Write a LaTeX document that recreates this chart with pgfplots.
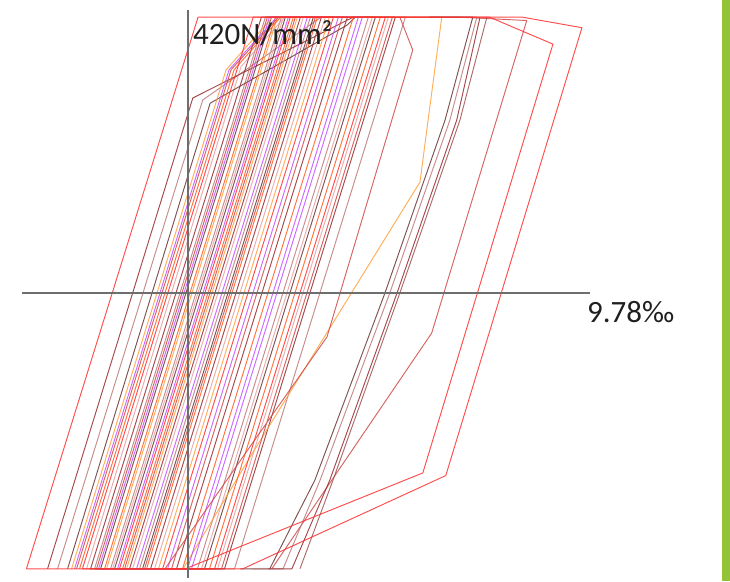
\documentclass[border=0pt]{standalone}
\usepackage{pgfplots}
\pgfplotsset{compat=1.18}
\usepackage{fontspec}
\setmainfont{Carlito}
\definecolor{cRed}{RGB}{255,45,45}
\definecolor{cMaroon}{RGB}{150,40,45}
\definecolor{cRosy}{RGB}{190,120,120}
\definecolor{cDkBrown}{RGB}{105,50,50}
\definecolor{cOrange}{RGB}{255,160,60}
\definecolor{cOrRed}{RGB}{255,90,30}
\definecolor{cPurple}{RGB}{195,80,255}
\definecolor{cPink}{RGB}{232,160,160}
\definecolor{cIndian}{RGB}{208,72,72}
\definecolor{cBrownD}{RGB}{160,80,80}
\definecolor{cGreen}{RGB}{146,195,56}
\definecolor{cAxis}{RGB}{110,110,110}
\begin{document}
\begin{tikzpicture}
\begin{axis}[at={(0pt,0pt)}, anchor=south west, scale only axis,
  width=568pt, height=568pt,
  xmin=-4.12, xmax=9.98, ymin=-434, ymax=431,
  hide axis, clip=false,
  every axis plot/.append style={line width=0.95pt, line join=round, mark=none, opacity=0.85}]
% rosy brown
\addplot[cRosy] coordinates {(-3.237,-420) (0.367,294) (3.3,420) (5.395,420) (1.155,-420) (-2.319,-420) (1.921,420) (4.477,420) (0.237,-420) (-1.921,-420) (2.319,420) (3.038,420) (-1.202,-420)};
% pink
\addplot[cPink] coordinates {(-2.517,-420) (1.319,345) (2.4,420) (4.974,420) (0.734,-420) (-1.872,-420) (2.368,420) (4.577,420) (0.337,-420) (-1.376,-420) (2.864,420) (3.41,420) (-0.83,-420)};
% dark brown
\addplot[cDkBrown] coordinates {(-2.988,-420) (0.55,289) (3.95,408) (4.15,420) (4.651,420) (0.411,-420) (-2.17,-420) (2.07,420) (3.113,420) (-1.127,-420) (-1.822,-420) (2.418,420)};
% maroon
\addplot[cMaroon] coordinates {(-3.485,-420) (0.12,297) (4.1,420) (5.147,420) (0.907,-420) (-2.418,-420) (1.822,420) (3.956,420) (-0.284,-420) (-1.45,-420) (2.79,420) (3.311,420) (-0.929,-420)};
% orange
\addplot[cOrange] coordinates {(-2.889,-420) (0.947,340) (2.1,420) (2.716,420) (-1.524,-420) (-2.021,-420) (2.219,420) (6.30,420) (5.96,263) (5.76,169) (1.54,-250) (-0.12,-420) (-0.73,-420) (3.51,420)};
% orange red
\addplot[cOrRed] coordinates {(-2.691,-420) (1.145,340) (2.3,420) (4.775,420) (0.535,-420) (-2.07,-420) (2.17,420) (4.105,420) (-0.135,-420) (-1.624,-420) (2.616,420) (3.212,420) (-1.028,-420)};
% purple
\addplot[cPurple] coordinates {(-2.815,-420) (1.021,340) (2.2,420) (4.328,420) (0.088,-420) (-2.219,-420) (2.021,420) (4.229,420) (-0.011,-420) (-1.748,-420) (2.492,420) (3.733,420) (-0.507,-420) (-1.276,-420) (2.964,420)};
% indian red
\addplot[cIndian] coordinates {(-2.765,-420) (1.07,340) (2.25,420) (5.073,420) (0.833,-420) (-2.269,-420) (1.971,420) (3.832,420) (-0.408,-420) (-1.574,-420) (2.666,420) (5.26,420) (5.58,370) (3.45,-67) (1.54,-234) (-0.57,-420) (-1.078,-420) (3.162,420) (6.75,420) (8.41,415) (6.05,-61) (3.57,-285) (2.08,-420)};
% right brown group
\addplot[cDkBrown] coordinates {(6.0,420) (7.07,420) (6.38,263) (4.89,0) (3.15,-285) (2.03,-420) (1.3,-420)};
\addplot[cRosy] coordinates {(6.1,420) (7.17,420) (6.50,263) (5.01,0) (3.28,-285) (2.36,-420) (1.6,-420)};
\addplot[cMaroon] coordinates {(7.25,420) (6.67,263) (5.19,0) (3.52,-285) (2.58,-420) (2.0,-420)};
\addplot[cBrownD] coordinates {(7.42,420) (6.75,263) (5.26,0) (3.60,-285) (2.78,-420)};
% red loops
\addplot[cRed] coordinates {(-1.70,-420) (2.54,420) (3.61,420) (-0.63,-420) (0.66,-420) (4.90,420)};
\addplot[cRed] coordinates {(-2.62,-420) (1.62,420) (7.49,420) (9.06,379) (5.83,-274) (-0.07,-420) (-2.62,-420)};
\addplot[cRed] coordinates {(-4.01,-420) (0.25,420) (8.31,420) (9.78,404) (6.40,-278) (1.36,-420) (-4.01,-420)};
% axes
\draw[cAxis, line width=1.4pt] (axis cs:-4.12,0) -- (axis cs:9.98,0);
\draw[cAxis, line width=1.4pt] (axis cs:0,-434) -- (axis cs:0,431);
\end{axis}
\node[anchor=base west, inner sep=0pt, font=\fontsize{31}{36}\selectfont, text=black!88] at (171pt,533pt) {420N/mm²};
\node[anchor=base west, inner sep=0pt, font=\fontsize{31}{36}\selectfont, text=black!88] at (565pt,255pt) {9.78‰};
\fill[cGreen] (700pt,-3pt) rectangle (708pt,578pt);
\pgfresetboundingbox
\path (-22pt,-3pt) rectangle (708pt,578pt);
\end{tikzpicture}
\end{document}
